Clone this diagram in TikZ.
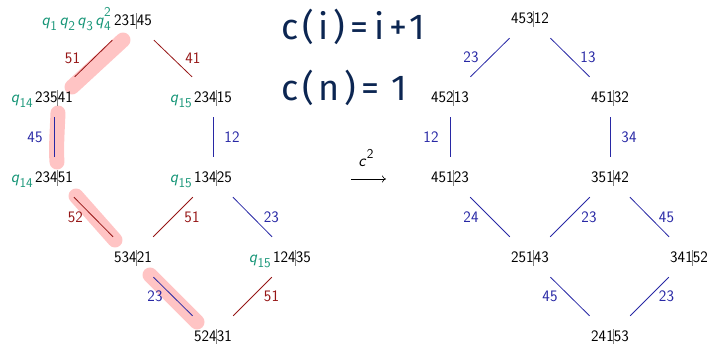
\documentclass[tikz,border=0pt]{standalone}
\usepackage{fontspec}
\newfontfamily\handfont[LetterSpace=12]{Fira Sans}
\usetikzlibrary{arrows.meta}
\definecolor{qcol}{RGB}{24,150,120}
\definecolor{rcol}{RGB}{150,22,22}
\definecolor{bcol}{RGB}{40,40,165}
\definecolor{hl}{RGB}{255,196,196}
\definecolor{navy}{RGB}{12,38,82}
\newcommand{\perm}[2]{#1\rlap{\hspace{-0.7pt}\smash{\textcolor{gray}{\rule[-0.22em]{0.6pt}{0.98em}}}}#2}
\newcommand{\subd}[1]{\raisebox{-0.3em}{\fontsize{13.5}{13.5}\selectfont #1}}
\newcommand{\supd}[1]{\raisebox{0.5em}{\fontsize{13.5}{13.5}\selectfont #1}}
\newcommand{\qq}[1]{\textit{q}\kern0.3pt\subd{#1}}
\begin{document}
\begin{tikzpicture}[x=1pt,y=-1pt,
  pn/.style={font=\fontsize{16}{19}\sffamily, minimum height=40pt, minimum width=64pt, inner sep=0pt},
  ql/.style={font=\fontsize{17}{20}\sffamily, text=qcol, anchor=base east, inner sep=0pt},
  el/.style={font=\fontsize{16}{19}\sffamily, inner sep=0pt},
  re/.style={draw=rcol, line width=0.8pt},
  be/.style={draw=bcol, line width=0.8pt},
  hlstroke/.style={draw=hl, line width=15pt, line cap=round},
  hand/.style={font=\fontsize{36}{42}\handfont, text=navy, inner sep=0pt}]
\useasboundingbox (0,0) rectangle (711,344);

% highlights
\draw[hlstroke] (123,40) -- (72,87);
\draw[hlstroke] (58,113) .. controls (57,135) and (56,150) .. (57,162);
\draw[hlstroke] (76,196) -- (115,240);
\draw[hlstroke] (150,275) -- (197,322);

% left graph nodes
\node[pn] (a) at (133,20) {\perm{231}{45}};
\node[pn] (b) at (54,97) {\perm{235}{41}};
\node[pn] (c) at (213,97) {\perm{234}{15}};
\node[pn] (d) at (54,177) {\perm{234}{51}};
\node[pn] (e) at (213,177) {\perm{134}{25}};
\node[pn] (f) at (133,257) {\perm{534}{21}};
\node[pn] (g) at (292,257) {\perm{124}{35}};
\node[pn] (h) at (213,336) {\perm{524}{31}};

\node[ql] (qa) at ([xshift=-22pt]a.base) {\qq{1}\kern2.5pt\qq{2}\kern2.5pt\qq{3}\kern2.5pt\textit{q}\kern0.3pt\rlap{\subd{4}}\supd{2}};
\node[ql] (qb) at ([xshift=-21pt]b.base) {\qq{14}};
\node[ql] (qc) at ([xshift=-21pt]c.base) {\qq{15}};
\node[ql] (qd) at ([xshift=-21pt]d.base) {\qq{14}};
\node[ql] (qe) at ([xshift=-21pt]e.base) {\qq{15}};
\node[ql] (qg) at ([xshift=-21pt]g.base) {\qq{15}};

\draw[re] (a) -- node[el, text=rcol, xshift=-21pt] (l1) {51} (b);
\draw[re] (a) -- node[el, text=rcol, xshift=20pt] (l2) {41} (c);
\draw[be] (b) -- node[el, text=bcol, xshift=-19pt] (l3) {45} (d);
\draw[be] (c) -- node[el, text=bcol, xshift=19pt] (l4) {12} (e);
\draw[re] (d) -- node[el, text=rcol, xshift=-18pt] (l5) {52} (f);
\draw[re] (e) -- node[el, text=rcol, xshift=19pt] (l6) {51} (f);
\draw[be] (e) -- node[el, text=bcol, xshift=19pt] (l7) {23} (g);
\draw[be] (f) -- node[el, text=bcol, xshift=-18pt] (l8) {23} (h);
\draw[re] (g) -- node[el, text=rcol, xshift=19pt] (l9) {51} (h);

% right graph nodes
\node[pn] (A) at (530,18) {\perm{453}{12}};
\node[pn] (B) at (450,97) {\perm{452}{13}};
\node[pn] (C) at (610,97) {\perm{451}{32}};
\node[pn] (D) at (450,177) {\perm{451}{23}};
\node[pn] (E) at (610,177) {\perm{351}{42}};
\node[pn] (F) at (530,257) {\perm{251}{43}};
\node[pn] (G) at (689,257) {\perm{341}{52}};
\node[pn] (H) at (610,336) {\perm{241}{53}};

\draw[be] (A) -- node[el, text=bcol, xshift=-19pt] (m1) {23} (B);
\draw[be] (A) -- node[el, text=bcol, xshift=18pt] (m2) {13} (C);
\draw[be] (B) -- node[el, text=bcol, xshift=-19pt] (m3) {12} (D);
\draw[be] (C) -- node[el, text=bcol, xshift=19pt] (m4) {34} (E);
\draw[be] (D) -- node[el, text=bcol, xshift=-19pt] (m5) {24} (F);
\draw[be] (E) -- node[el, text=bcol, xshift=19pt] (m6) {23} (F);
\draw[be] (E) -- node[el, text=bcol, xshift=17pt] (m7) {45} (G);
\draw[be] (F) -- node[el, text=bcol, xshift=-20pt] (m8) {45} (H);
\draw[be] (G) -- node[el, text=bcol, xshift=17pt] (m9) {23} (H);

% middle
\node[el, font=\fontsize{17}{20}\sffamily] (cs) at (366,158) {\textit{c}\kern0.5pt\supd{2}};
\coordinate (ar1) at (351,179);
\coordinate (ar2) at (386,179);
\draw[line width=0.6pt, -{To[length=4pt,width=7pt]}] (ar1) -- (ar2);

\node[hand, anchor=west] (h1) at (281,27) {c(i)\,=\,i+1};
\node[hand, anchor=west] (h2) at (281,88) {c(n)\,=\,\,1};
\end{tikzpicture}
\end{document}
